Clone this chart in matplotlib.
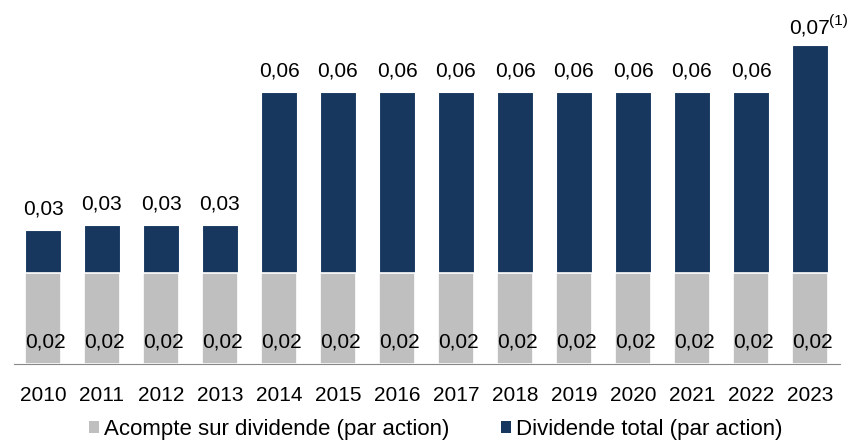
import matplotlib.pyplot as plt
from matplotlib.patches import Patch
from matplotlib import rcParams

rcParams['font.family'] = ['Liberation Sans', 'DejaVu Sans']
rcParams['font.size'] = 15

annees = ['2010', '2011', '2012', '2013', '2014', '2015', '2016',
          '2017', '2018', '2019', '2020', '2021', '2022', '2023']
acompte = [0.02] * 14
total = [0.0296, 0.0307, 0.0307, 0.0307, 0.06, 0.06, 0.06,
         0.06, 0.06, 0.06, 0.06, 0.06, 0.06, 0.0704]
lab_total = ['0,03'] * 4 + ['0,06'] * 9 + ['0,07']
lab_acompte = ['0,02'] * 14

navy = '#17375E'
gris = '#BFBFBF'

fig = plt.figure(figsize=(8.56, 4.42), dpi=100)
ax = fig.add_axes([13.5/856, 78/442, 826/856, 362.6/442])

x = range(len(annees))
ax.bar(x, total, width=0.61, color=navy, edgecolor='white', linewidth=0.8)
ax.bar(x, acompte, width=0.61, color=gris, edgecolor='white', linewidth=1.2)

for i in x:
    off = 8 if i < 13 else 5
    ax.annotate(lab_total[i], (i, total[i]), xytext=(0, off), textcoords='offset points',
                ha='center', va='bottom', fontsize=15)
    ax.annotate(lab_acompte[i], (i, 0), xytext=(2, 9), textcoords='offset points',
                ha='center', va='bottom', fontsize=15)
# renvoi (1) en exposant
ax.annotate('(1)', (13, total[13]), xytext=(14, 12), textcoords='offset points',
            ha='left', va='bottom', fontsize=11)

ax.set_xlim(-0.5, 13.5)
ax.set_ylim(0, 0.08)
ax.set_xticks(list(x))
ax.set_xticklabels(annees, fontsize=15)
ax.tick_params(axis='x', length=0, pad=15.5)
ax.set_yticks([])
for s in ['top', 'left', 'right']:
    ax.spines[s].set_visible(False)
ax.spines['bottom'].set_color('#888888')

handles = [Patch(facecolor=gris, label='Acompte sur dividende (par action)'),
           Patch(facecolor=navy, label='Dividende total (par action)')]
fig.legend(handles=handles, loc='lower center', bbox_to_anchor=(0.509, -0.041), ncol=2,
           frameon=False, fontsize=16, handlelength=0.45, handleheight=0.45,
           handletextpad=0.25, columnspacing=2.3)

fig.savefig('out.png', dpi=100)
